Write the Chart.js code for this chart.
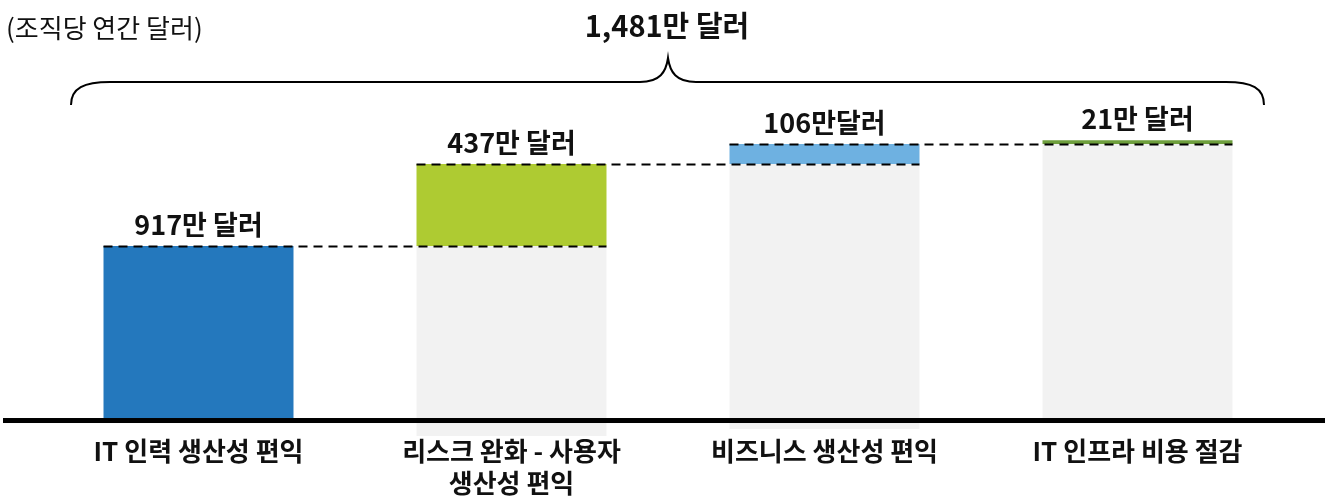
<!DOCTYPE html>
<html>
<head>
<meta charset="utf-8">
<script src="https://cdn.jsdelivr.net/npm/chart.js@4"></script>
<style>
    body { margin: 0; background: #fff; }
    #wrap { width: 1328px; height: 500px; position: relative; }
</style>
</head>
<body>
<div id="wrap"><canvas id="chart"></canvas></div>
<script>
const categories = [["IT 인력 생산성 편익"], ["리스크 완화 - 사용자", "생산성 편익"], ["비즈니스 생산성 편익"], ["IT 인프라 비용 절감"]];
const values = [917, 437, 106, 21];
const valueLabels = ["917만 달러", "437만 달러", "106만달러", "21만 달러"];
const ghostBottoms = [null, -96, -59, 0];
const totalLabel = "1,481만 달러";
const subtitle = "(조직당 연간 달러)";

const barColors = ["#2478bd", "#aecb32", "#6eb1e1", "#6e9f3d"];
const FONT = "'Noto Sans CJK KR', 'Noto Sans', sans-serif";

// running totals for the waterfall
const bases = [];
let run = 0;
values.forEach(v => { bases.push(run); run += v; });

const stepData = values.map((v, i) => [bases[i], bases[i] + v]);
const ghostData = ghostBottoms.map((b, i) => b === null ? null : [b, bases[i]]);

const decorations = {
    id: "decorations",
    afterDatasetsDraw(chart) {
        const ctx = chart.ctx;
        const x = chart.scales.x;
        const y = chart.scales.y;
        const meta = chart.getDatasetMeta(0);
        ctx.save();

        // baseline
        ctx.fillStyle = "#000";
        ctx.fillRect(3, y.getPixelForValue(0), 1322, 5);

        // dashed connectors
        ctx.strokeStyle = "#000";
        ctx.lineWidth = 2;
        ctx.setLineDash([9, 6]);
        for (let i = 0; i < values.length - 1; i++) {
            const top = Math.round(y.getPixelForValue(bases[i] + values[i])) + 0.5;
            const a = meta.data[i], b = meta.data[i + 1];
            ctx.beginPath();
            ctx.moveTo(a.x - a.width / 2, top);
            ctx.lineTo(b.x + b.width / 2, top);
            ctx.stroke();
        }
        ctx.setLineDash([]);

        // value labels
        ctx.fillStyle = "#111";
        ctx.textAlign = "center";
        ctx.textBaseline = "middle";
        ctx.font = "bold 27px " + FONT;
        values.forEach((v, i) => {
            const top = y.getPixelForValue(bases[i] + v);
            ctx.fillText(valueLabels[i], x.getPixelForValue(i), top - 21);
        });

        // category labels
        ctx.font = "bold 26px " + FONT;
        categories.forEach((lines, i) => {
            lines.forEach((t, j) => {
                ctx.fillText(t, x.getPixelForValue(i), 451 + j * 32);
            });
        });

        // total and brace
        ctx.font = "bold 29px " + FONT;
        ctx.fillText(totalLabel, 667, 26);

        ctx.lineWidth = 2;
        ctx.beginPath();
        ctx.moveTo(71, 105);
        ctx.bezierCurveTo(71, 88, 84, 82, 110, 82);
        ctx.lineTo(640, 82);
        ctx.bezierCurveTo(660, 82, 666, 72, 668, 58);
        ctx.bezierCurveTo(670, 72, 676, 82, 696, 82);
        ctx.lineTo(1226, 82);
        ctx.bezierCurveTo(1252, 82, 1264, 88, 1264, 105);
        ctx.stroke();

        // subtitle
        ctx.textAlign = "left";
        ctx.font = "26px " + FONT;
        ctx.fillText(subtitle, 6, 28);

        ctx.restore();
    }
};

new Chart(document.getElementById("chart"), {
    type: "bar",
    data: {
        labels: categories,
        datasets: [
            {
                data: stepData,
                backgroundColor: barColors,
                grouped: false,
                order: 1
            },
            {
                data: ghostData,
                backgroundColor: "#f2f2f2",
                grouped: false,
                order: 2
            }
        ]
    },
    options: {
        responsive: true,
        maintainAspectRatio: false,
        animation: false,
        layout: { padding: { left: 42, right: 34, top: 0, bottom: 0 } },
        datasets: {
            bar: { categoryPercentage: 1, barPercentage: 0.607 }
        },
        scales: {
            x: { display: false },
            y: { display: false, min: -437, max: 2228 }
        },
        plugins: {
            legend: { display: false },
            tooltip: { enabled: false }
        }
    },
    plugins: [decorations]
});
</script>
</body>
</html>
